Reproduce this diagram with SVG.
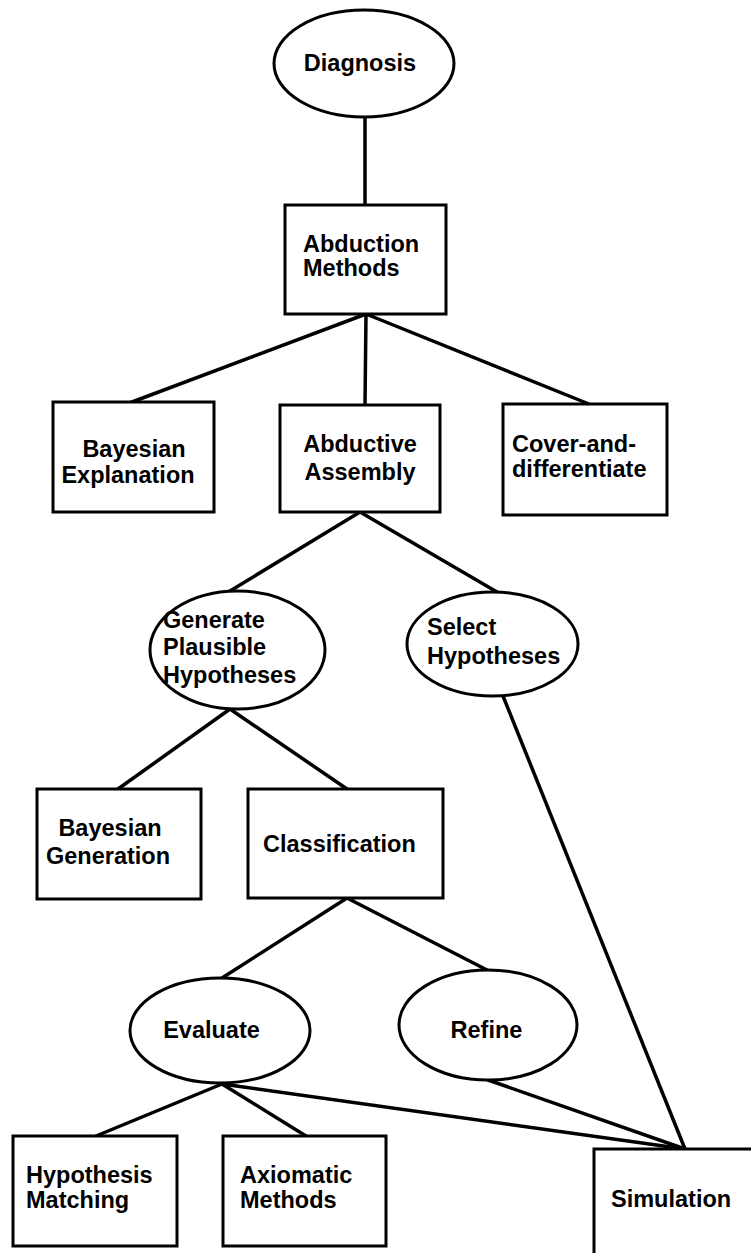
<svg xmlns="http://www.w3.org/2000/svg" width="751" height="1253" viewBox="0 0 751 1253">
  <style>
    .shape { fill: #ffffff; stroke: #000000; stroke-width: 3; }
    .edge { stroke: #000000; stroke-width: 3.5; fill: none; stroke-linecap: round; }
    .label { font-family: "Liberation Sans", Arial, Helvetica, sans-serif; font-weight: bold; font-size: 23.5px; fill: #000000; }
    .mid { text-anchor: middle; }
  </style>
  <rect x="0" y="0" width="751" height="1253" fill="#ffffff"/>

  <!-- connectors -->
  <g id="connectors">
    <line class="edge" x1="365" y1="117" x2="365" y2="205"/>
    <line class="edge" x1="366" y1="314" x2="132" y2="402"/>
    <line class="edge" x1="366" y1="314" x2="365" y2="405"/>
    <line class="edge" x1="366" y1="314" x2="589" y2="404"/>
    <line class="edge" x1="360" y1="512" x2="230" y2="591"/>
    <line class="edge" x1="360" y1="512" x2="497" y2="592"/>
    <line class="edge" x1="230" y1="709" x2="118" y2="789"/>
    <line class="edge" x1="230" y1="709" x2="347" y2="789"/>
    <line class="edge" x1="347" y1="898" x2="222" y2="978"/>
    <line class="edge" x1="347" y1="898" x2="487" y2="970"/>
    <line class="edge" x1="222" y1="1084" x2="96" y2="1136"/>
    <line class="edge" x1="222" y1="1084" x2="306" y2="1136"/>
    <line class="edge" x1="222" y1="1084" x2="685" y2="1149"/>
    <line class="edge" x1="488" y1="1080" x2="685" y2="1149"/>
    <line class="edge" x1="503" y1="696" x2="685" y2="1149"/>
  </g>

  <g id="diagnosis">
    <ellipse class="shape" cx="364" cy="63.5" rx="90" ry="53.5"/>
    <text class="label mid" x="360" y="71">Diagnosis</text>
  </g>

  <g id="abduction-methods">
    <rect class="shape" x="285" y="205" width="161" height="109"/>
    <text class="label" x="303" y="252">Abduction</text>
    <text class="label" x="303" y="276">Methods</text>
  </g>

  <g id="bayesian-explanation">
    <rect class="shape" x="53" y="402" width="161" height="110"/>
    <text class="label mid" x="134" y="457">Bayesian</text>
    <text class="label mid" x="128" y="483">Explanation</text>
  </g>

  <g id="abductive-assembly">
    <rect class="shape" x="280" y="405" width="160" height="107"/>
    <text class="label mid" x="360" y="452">Abductive</text>
    <text class="label mid" x="360" y="480">Assembly</text>
  </g>

  <g id="cover-and-differentiate">
    <rect class="shape" x="503" y="404" width="164" height="111"/>
    <text class="label" x="512" y="452">Cover-and-</text>
    <text class="label" x="512" y="477">differentiate</text>
  </g>

  <g id="generate-plausible-hypotheses">
    <ellipse class="shape" cx="237.5" cy="650" rx="87.5" ry="59"/>
    <text class="label" x="163" y="628">Generate</text>
    <text class="label" x="163" y="655">Plausible</text>
    <text class="label" x="163" y="683">Hypotheses</text>
  </g>

  <g id="select-hypotheses">
    <ellipse class="shape" cx="492.5" cy="644" rx="85.5" ry="52"/>
    <text class="label" x="427" y="635">Select</text>
    <text class="label" x="427" y="664">Hypotheses</text>
  </g>

  <g id="bayesian-generation">
    <rect class="shape" x="37" y="789" width="164" height="110"/>
    <text class="label mid" x="110" y="836">Bayesian</text>
    <text class="label mid" x="108" y="864">Generation</text>
  </g>

  <g id="classification">
    <rect class="shape" x="248" y="789" width="195" height="109"/>
    <text class="label" x="263" y="852">Classification</text>
  </g>

  <g id="evaluate">
    <ellipse class="shape" cx="220" cy="1030.5" rx="90" ry="52.5"/>
    <text class="label mid" x="211.5" y="1038">Evaluate</text>
  </g>

  <g id="refine">
    <ellipse class="shape" cx="488" cy="1025" rx="89" ry="55"/>
    <text class="label mid" x="486.5" y="1038">Refine</text>
  </g>

  <g id="hypothesis-matching">
    <rect class="shape" x="13" y="1136" width="164" height="110"/>
    <text class="label" x="26" y="1183">Hypothesis</text>
    <text class="label" x="26" y="1208">Matching</text>
  </g>

  <g id="axiomatic-methods">
    <rect class="shape" x="223" y="1136" width="163" height="110"/>
    <text class="label" x="240" y="1183">Axiomatic</text>
    <text class="label" x="240" y="1208">Methods</text>
  </g>

  <g id="simulation">
    <rect class="shape" x="594" y="1149" width="170" height="120"/>
    <text class="label" x="611" y="1207">Simulation</text>
  </g>
</svg>
